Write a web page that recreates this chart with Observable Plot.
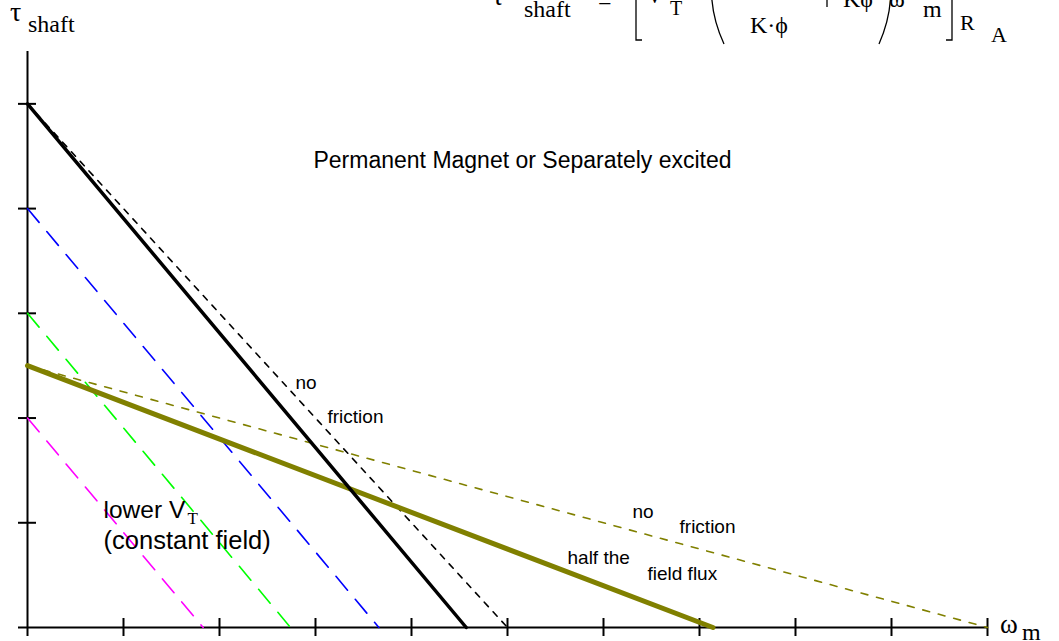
<!DOCTYPE html>
<html>
<head>
<meta charset="utf-8">
<script src="https://cdn.jsdelivr.net/npm/d3@7"></script>
<script src="https://cdn.jsdelivr.net/npm/@observablehq/plot@0.6"></script>
<style>
html,body{margin:0;padding:0;background:#fff;}
#wrap{position:relative;width:1059px;height:641px;overflow:hidden;background:#fff;}
#wrap > svg{display:block;}
#overlay{position:absolute;left:0;top:0;pointer-events:none;}
</style>
</head>
<body>
<div id="wrap"></div>
<script>
// ---- data (speed ω_m in tick units, torque τ_shaft in tick units) ----
const xTicks = [0, 1, 2, 3, 4, 5, 6, 7, 8, 9, 10];
const yTicks = [1, 2, 3, 4, 5];

const fullFieldSpeed = [0, 4.57];       // with friction
const fullFieldTorque = [5, 0];
const fullNoFrictionSpeed = [0, 5];
const fullNoFrictionTorque = [5, 0];

const lowerVtStall = [4, 3, 2];           // torque at ω = 0
const lowerVtNoLoad = [3.66, 2.74, 1.83]; // speed at τ = 0
const lowerVtColors = ["#0000ff", "#00ff00", "#ff00ff"];

const halfFluxSpeed = [0, 7.14];
const halfFluxTorque = [2.5, 0];
const halfNoFrictionSpeed = [0, 10];
const halfNoFrictionTorque = [2.5, 0];

// annotations
const labelText = ["Permanent Magnet or Separately excited", "no", "friction", "no", "friction", "half the", "field flux", "lower V", "(constant field)"];
const labelSpeed = [2.979, 2.792, 3.125, 6.302, 6.792, 5.625, 6.458, 0.792, 0.792];
const labelTorque = [4.383, 2.273, 1.957, 1.050, 0.898, 0.602, 0.449, 1.050, 0.754];
const labelSize = [23, 19, 19, 19, 19, 19, 19, 24.5, 25.5];

// ---- build ----
const pts = (xs, ys) => xs.map((x, i) => ({x, y: ys[i]}));
const sans = "'Liberation Sans', Arial, Helvetica, sans-serif";
const serif = "'Liberation Serif', 'Times New Roman', 'DejaVu Serif', serif";

const tkY = 9 / (576 / 5.5); // half tick length in torque units
const tkX = 9 / 96;          // half tick length in speed units

const labels = labelText.map((t, i) => ({t, x: labelSpeed[i], y: labelTorque[i], s: labelSize[i]}));
const sizes = [...new Set(labelSize)];

const marks = [
  Plot.ruleY([0], {x1: -tkX, x2: 10, stroke: "black", strokeWidth: 2}),
  Plot.ruleX([0], {y1: -tkY, y2: 5.5, stroke: "black", strokeWidth: 2}),
  Plot.ruleX(xTicks.slice(1), {x: d => d, y1: -tkY, y2: tkY, stroke: "black", strokeWidth: 2}),
  Plot.ruleY(yTicks, {y: d => d, x1: -tkX, x2: tkX, stroke: "black", strokeWidth: 2}),
  ...lowerVtStall.map((s, i) => Plot.line(pts([0, lowerVtNoLoad[i]], [s, 0]), {x: "x", y: "y", stroke: lowerVtColors[i], strokeWidth: 1.6, strokeDasharray: "18,12"})),
  Plot.line(pts(halfNoFrictionSpeed, halfNoFrictionTorque), {x: "x", y: "y", stroke: "#808000", strokeWidth: 1.6, strokeDasharray: "7,9"}),
  Plot.line(pts(fullNoFrictionSpeed, fullNoFrictionTorque), {x: "x", y: "y", stroke: "black", strokeWidth: 1.6, strokeDasharray: "6,7"}),
  Plot.line(pts(halfFluxSpeed, halfFluxTorque), {x: "x", y: "y", stroke: "#808000", strokeWidth: 5}),
  Plot.line(pts(fullFieldSpeed, fullFieldTorque), {x: "x", y: "y", stroke: "black", strokeWidth: 3.5}),
  ...sizes.map(s => Plot.text(labels.filter(d => d.s === s), {x: "x", y: "y", text: "t", fontSize: s, fontFamily: sans, textAnchor: "start", lineAnchor: "bottom", fill: "black"})),
  Plot.text([{x: 1.667, y: 0.993, t: "T"}], {x: "x", y: "y", text: "t", fontSize: 17, fontFamily: serif, textAnchor: "start", lineAnchor: "bottom", fill: "black"})
];

const chart = Plot.plot({
  width: 1059,
  height: 641,
  marginLeft: 27,
  marginRight: 72,
  marginTop: 51,
  marginBottom: 14,
  x: {domain: [0, 10], axis: null},
  y: {domain: [0, 5.5], axis: null},
  style: {background: "white"},
  marks
});
document.getElementById("wrap").appendChild(chart);

// ---- overlay: axis names and the (cropped) formula ----
const ov = d3.select("#wrap").append("svg").attr("id", "overlay").attr("width", 1059).attr("height", 641);
const txt = (s, x, y, size, fam = serif) => ov.append("text").attr("x", x).attr("y", y).attr("font-size", size).attr("font-family", fam).attr("fill", "black").text(s);
txt("τ", 10, 21, 28);
txt("shaft", 28, 32, 24);
txt("ω", 1000, 633, 27);
txt("m", 1022, 640, 24);

txt("τ", 492, 5, 28);
txt("shaft", 524, 17, 24);
txt("=", 598, 9, 24);
txt("V", 646, 3, 24);
txt("T", 670, 15, 20);
txt("K·ϕ", 750, 33, 24);
txt("Kϕ", 843, 7, 24);
txt("ω", 889, 7, 24);
txt("m", 923, 17, 24);
txt("R", 960, 30, 22);
txt("A", 991, 42, 22);
const path = d => ov.append("path").attr("d", d).attr("fill", "none").attr("stroke", "black").attr("stroke-width", 1.3);
path("M 642 40 H 636 V -10");
path("M 946 40 H 952 V -10");
path("M 722 -60 Q 700 -8 724 44");
path("M 880 -60 Q 902 -8 879 44");
path("M 827 -5 V 7");
</script>
</body>
</html>
